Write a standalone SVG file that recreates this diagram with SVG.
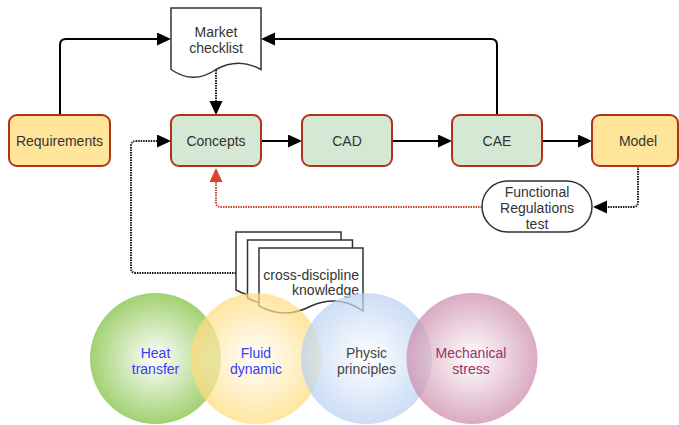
<svg xmlns="http://www.w3.org/2000/svg" width="679" height="425" viewBox="0 0 679 425">
<style>
text{font-family:"Liberation Sans",Arial,sans-serif;font-size:14px;fill:#333333;text-anchor:middle}
.box{stroke:#B3311B;stroke-width:2}
.g{fill:#D5E8D4}
.y{fill:#FFE599}
.doc{fill:#FFFFFF;stroke:#333333;stroke-width:1.5}
.ln{fill:none;stroke:#000000;stroke-width:2}
.dot{fill:none;stroke:#1A1A1A;stroke-width:2;stroke-dasharray:1.5 1}
.red{fill:none;stroke:#D6452B;stroke-width:2;stroke-dasharray:1.5 1}
.circ{opacity:0.72}
</style>
<defs>
<marker id="ab" markerUnits="userSpaceOnUse" markerWidth="16" markerHeight="14" refX="2" refY="6.5" orient="auto">
<path d="M0,0 L14,6.5 L0,13 Z" fill="#000000"/>
</marker>
<marker id="ar" markerUnits="userSpaceOnUse" markerWidth="16" markerHeight="14" refX="2" refY="6.5" orient="auto">
<path d="M0,0 L14,6.5 L0,13 Z" fill="#D6452B"/>
</marker>
<radialGradient id="gg" cx="0.5" cy="0.5" r="0.5">
<stop offset="0" stop-color="#FFFFFF"/>
<stop offset="1" stop-color="#97CC62"/>
</radialGradient>
<radialGradient id="gy" cx="0.5" cy="0.5" r="0.5">
<stop offset="0" stop-color="#FFFFFF"/>
<stop offset="1" stop-color="#FFDB7A"/>
</radialGradient>
<radialGradient id="gb" cx="0.5" cy="0.5" r="0.5">
<stop offset="0" stop-color="#FFFFFF"/>
<stop offset="1" stop-color="#B8D0F2"/>
</radialGradient>
<radialGradient id="gp" cx="0.5" cy="0.5" r="0.5">
<stop offset="0" stop-color="#FFFFFF"/>
<stop offset="1" stop-color="#CC8AAA"/>
</radialGradient>
</defs>

<g id="connectors">
<path class="ln" d="M60,115 V45 Q60,39 66,39 H159" marker-end="url(#ab)"/>
<path class="ln" d="M497,115 V45 Q497,39 491,39 H273" marker-end="url(#ab)"/>
<path class="dot" d="M216,70 V103" marker-end="url(#ab)"/>
<path class="ln" d="M261,141 H290" marker-end="url(#ab)"/>
<path class="ln" d="M392,141 H440" marker-end="url(#ab)"/>
<path class="ln" d="M542,141 H580" marker-end="url(#ab)"/>
<path class="dot" d="M638,166 V202 Q638,207 633,207 H605" marker-end="url(#ab)"/>
<path class="red" d="M482,207 H221 Q216,207 216,202 V180" marker-end="url(#ar)"/>
<path class="dot" d="M236,273 H136 Q131,273 131,268 V146 Q131,141 136,141 H159" marker-end="url(#ab)"/>
</g>

<g id="requirements">
<rect class="box y" x="9" y="115" width="101" height="51" rx="8"/>
<text x="59.5" y="146">Requirements</text>
</g>
<g id="concepts">
<rect class="box g" x="171" y="115" width="90" height="51" rx="8"/>
<text x="216" y="146">Concepts</text>
</g>
<g id="cad">
<rect class="box g" x="302" y="115" width="90" height="51" rx="8"/>
<text x="347" y="146">CAD</text>
</g>
<g id="cae">
<rect class="box g" x="452" y="115" width="90" height="51" rx="8"/>
<text x="497" y="146">CAE</text>
</g>
<g id="model">
<rect class="box y" x="592" y="115" width="86" height="51" rx="8"/>
<text x="638" y="146">Model</text>
</g>
<g id="market-checklist">
<path class="doc" d="M171,8 H261 V69.5 Q238.5,57 216,69.5 Q193.5,85 171,69.5 Z"/>
<text x="216" y="37">Market</text>
<text x="216" y="53">checklist</text>
</g>
<g id="functional-test">
<rect x="482" y="181" width="110" height="51" rx="25.5" fill="#FFFFFF" stroke="#333333" stroke-width="1.5"/>
<text x="537" y="197">Functional</text>
<text x="537" y="213">Regulations</text>
<text x="537" y="229">test</text>
</g>
<g id="cross-discipline">
<path class="doc" d="M236,232 H341 V295 Q317,278 288.5,290 Q262,304 236,290 Z"/>
<path class="doc" d="M247.5,240 H352.5 V303 Q328.5,286 300,298 Q273.5,312 247.5,298 Z"/>
<path class="doc" d="M259,248 H363 V311 Q339,294 311,306 Q285,320 259,306 Z"/>
<text x="359" y="280" style="text-anchor:end">cross-discipline</text>
<text x="359" y="295" style="text-anchor:end">knowledge</text>
</g>

<g id="heat-transfer">
<circle class="circ" cx="155.5" cy="358.5" r="65.5" fill="url(#gg)" style="opacity:0.9"/>
<text x="155.5" y="358" style="fill:#3B3BF0">Heat</text>
<text x="155.5" y="374" style="fill:#3B3BF0">transfer</text>
</g>
<g id="fluid-dynamic">
<circle class="circ" cx="256" cy="358.5" r="65.5" fill="url(#gy)"/>
<text x="256" y="358" style="fill:#3B3BF0">Fluid</text>
<text x="256" y="374" style="fill:#3B3BF0">dynamic</text>
</g>
<g id="physic-principles">
<circle class="circ" cx="366.5" cy="358.5" r="65.5" fill="url(#gb)"/>
<text x="366.5" y="358" style="fill:#444444">Physic</text>
<text x="366.5" y="374" style="fill:#444444">principles</text>
</g>
<g id="mechanical-stress">
<circle class="circ" cx="472" cy="358.5" r="65.5" fill="url(#gp)"/>
<text x="471" y="358" style="fill:#993366">Mechanical</text>
<text x="471" y="374" style="fill:#993366">stress</text>
</g>
</svg>
